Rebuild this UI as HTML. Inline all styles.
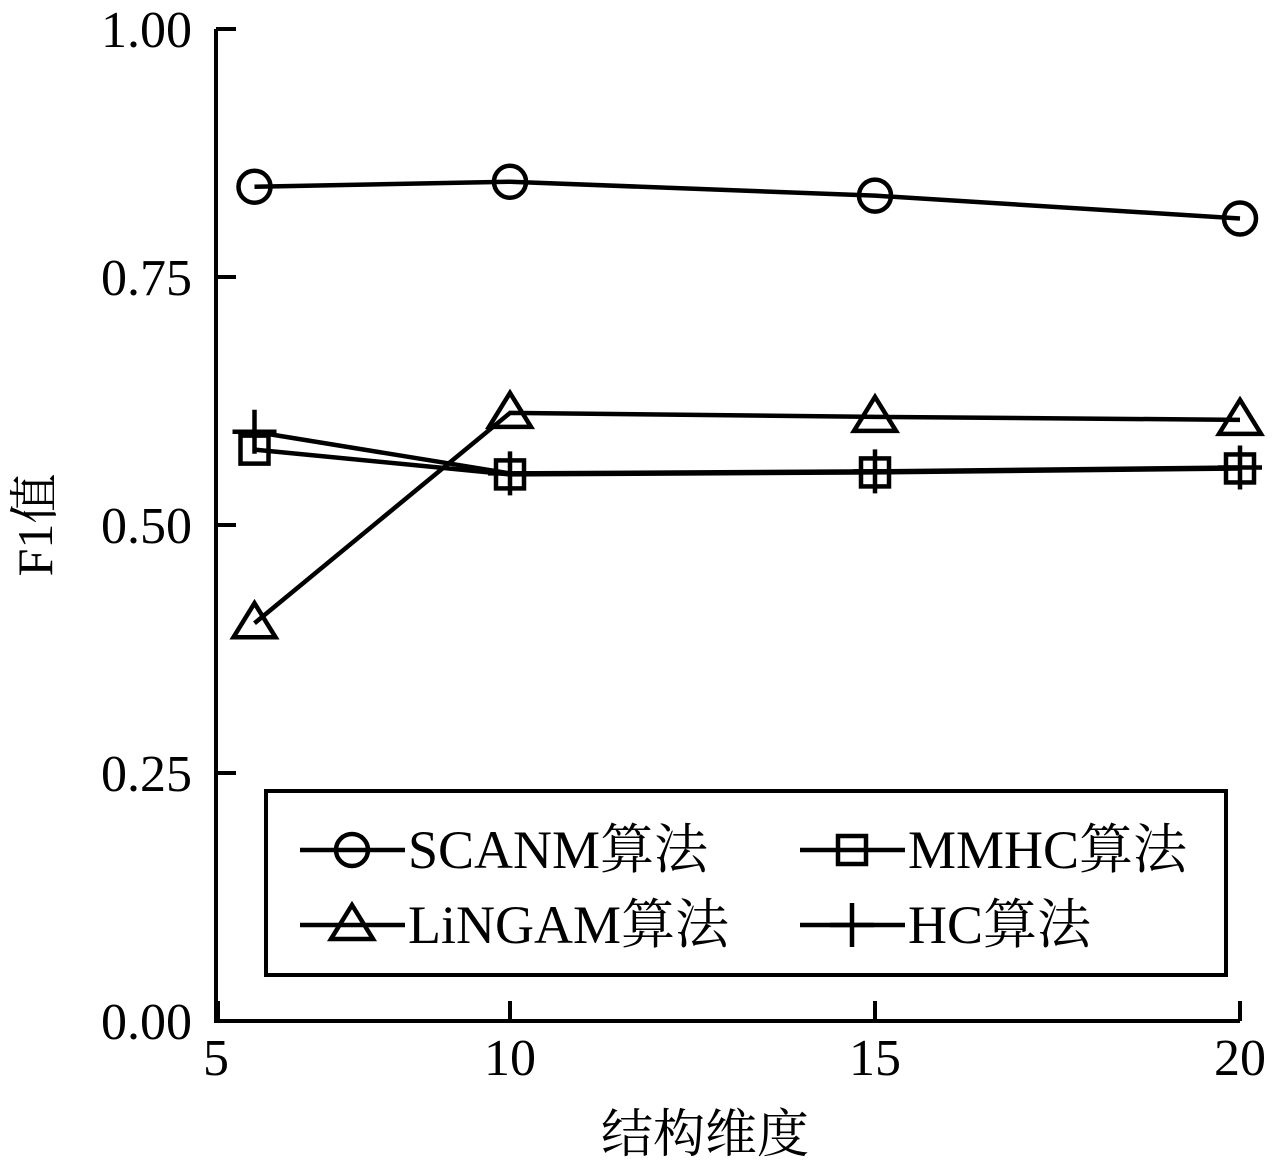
<!DOCTYPE html>
<html><head><meta charset="utf-8"><style>
html,body{margin:0;padding:0;background:#fff}
svg{display:block}
text{font-family:"Liberation Serif","Noto Serif CJK SC",serif;fill:#000}
</style></head><body>
<svg id="chart" width="1279" height="1169" viewBox="0 0 1279 1169" xmlns="http://www.w3.org/2000/svg">
<g id="axes"></g>
<g id="series"></g>
<g id="legend"></g>
<text x="52" y="525" font-size="50" text-anchor="middle" transform="rotate(-90 52 525)">F1值</text>
<text x="705" y="1152" font-size="52" text-anchor="middle">结构维度</text>
</svg>
<script>
const xValues = [6.5, 10, 15, 20];
const xTickValues = [6, 10, 15, 20];
const xTickLabels = ["5", "10", "15", "20"];
const yTickValues = [0, 0.25, 0.5, 0.75, 1];
const yTickLabels = ["0.00", "0.25", "0.50", "0.75", "1.00"];
const seriesNames = ["SCANM算法", "MMHC算法", "LiNGAM算法", "HC算法"];
const scanm = [0.841, 0.846, 0.832, 0.809];
const mmhc = [0.576, 0.551, 0.553, 0.557];
const lingam = [0.401, 0.613, 0.609, 0.606];
const hc = [0.594, 0.552, 0.554, 0.558];

const NS = "http://www.w3.org/2000/svg";
function xs(v){ return 510 + (v - 10) * 73; }
function ys(v){ return 1021 - v * 992; }
function mk(tag, attrs, parent){
  const e = document.createElementNS(NS, tag);
  for (const k in attrs) e.setAttribute(k, attrs[k]);
  parent.appendChild(e);
  return e;
}
const axes = document.getElementById('axes');
let a = mk('path', {d:`M216 29 V1021 H1240`, fill:'none', stroke:'#000', 'stroke-width':4}, axes);


yTickValues.forEach((v,i)=>{
  const y = ys(v);
  const t = mk('line', {x1:216, x2:236, y1:y, y2:y, stroke:'#000', 'stroke-width':4}, axes);
  
  
  const l = mk('text', {x:192, y:y+18, 'font-size':52, 'text-anchor':'end'}, axes);
  l.textContent = yTickLabels[i];
  
  
});
xTickValues.forEach((v,i)=>{
  const x = xs(v);
  const t = mk('line', {x1:x, x2:x, y1:1021, y2:1001, stroke:'#000', 'stroke-width':4}, axes);
  
  
  const l = mk('text', {x:i===0?216:x, y:1075, 'font-size':52, 'text-anchor':'middle'}, axes);
  l.textContent = xTickLabels[i];
  
  
});
function marker(type, x, y, g){
  let e;
  if (type==='circle') e = mk('circle', {cx:x, cy:y, r:16, fill:'none', stroke:'#000', 'stroke-width':4.5}, g);
  else if (type==='square') e = mk('rect', {x:x-14, y:y-14, width:28, height:28, fill:'none', stroke:'#000', 'stroke-width':4.5}, g);
  else if (type==='triangle') e = mk('path', {d:`M${x} ${y-20} L${x+21} ${y+14} L${x-21} ${y+14} Z`, fill:'none', stroke:'#000', 'stroke-width':4.5}, g);
  else e = mk('path', {d:`M${x-22} ${y} H${x+22} M${x} ${y-22} V${y+22}`, fill:'none', stroke:'#000', 'stroke-width':4.5}, g);
  
  
}
const seriesData = [[scanm,'circle'],[mmhc,'square'],[lingam,'triangle'],[hc,'plus']];
const sg = document.getElementById('series');
seriesData.forEach(([vals,type],si)=>{
  const g = mk('g', {}, sg);
  
  
  const p = mk('polyline', {points: vals.map((v,i)=>xs(xValues[i])+','+ys(v)).join(' '), fill:'none', stroke:'#000', 'stroke-width':4.5}, g);
  
  
  vals.forEach((v,i)=>marker(type, xs(xValues[i]), ys(v), g));
});
const lg = document.getElementById('legend');
const box = mk('rect', {x:266, y:791, width:960, height:184, fill:'#fff', stroke:'#000', 'stroke-width':4}, lg);


const legPos = [[300,850],[800,850],[300,925],[800,925]];
const legTypes = ['circle','square','triangle','plus'];
legPos.forEach(([x,y],i)=>{
  const g = mk('g', {}, lg);
  
  
  const l = mk('line', {x1:x, x2:x+105, y1:y, y2:y, stroke:'#000', 'stroke-width':4.5}, g);
  
  
  marker(legTypes[i], x+52, y, g);
  const t = mk('text', {x:x+108, y:y+18, 'font-size':54}, g);
  t.textContent = seriesNames[i];
  
  
});
</script>
</body></html>
